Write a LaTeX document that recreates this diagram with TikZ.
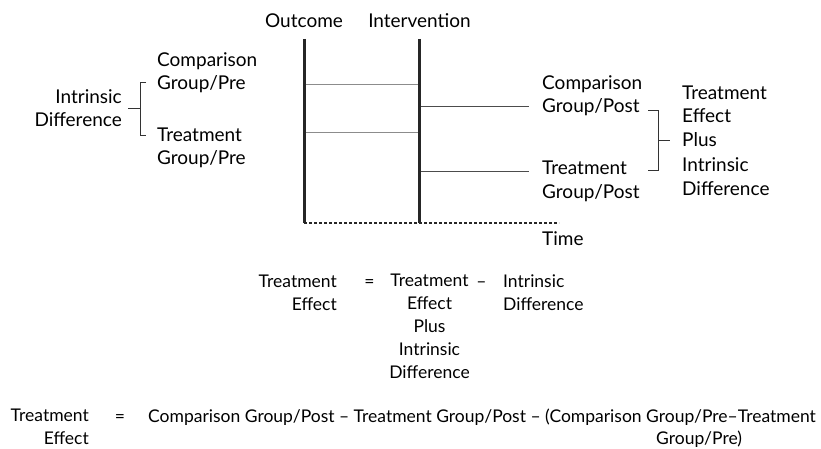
\documentclass[tikz,border=0pt]{standalone}
\usepackage{fontspec}
\setmainfont{Lato}
\usepackage{tikz}

\begin{document}
\begin{tikzpicture}[x=1pt,y=-1pt,
   lbl/.style={inner sep=0, font=\fontsize{19}{23.5}\selectfont},
   eqn/.style={inner sep=0, font=\fontsize{17.5}{22.8}\selectfont},
   axisline/.style={line width=3pt, color=black!85},
   level/.style={color=gray, line width=1pt},
   bracket/.style={color=black!80, line width=0.9pt}]
   \useasboundingbox (0,0) rectangle (821,449);
   % time axis and the two verticals
   \coordinate (otop) at (304,39);
   \coordinate (obot) at (304,223);
   \coordinate (itop) at (419,39);
   \coordinate (ibot) at (419,223);
   \coordinate (tend) at (559,223);
   \draw[dash pattern=on 3pt off 2pt, line width=1.5pt, color=black!85] (obot) -- (tend);
   \draw[axisline] (otop) -- (obot);
   \draw[axisline] (itop) -- (ibot);
   \node[lbl, anchor=base] (outcome) at (304,28) {Outcome};
   \node[lbl, anchor=base] (interv) at (419.5,28) {Intervention};
   \node[lbl, anchor=base west] (time) at (542,245) {Time};
   % levels
   \coordinate (cpreL) at (305.5,85);  \coordinate (cpreR) at (417.5,85);
   \coordinate (tpreL) at (305.5,133); \coordinate (tpreR) at (417.5,133);
   \coordinate (cpostL) at (420.5,107); \coordinate (cpostR) at (529,107);
   \coordinate (tpostL) at (420.5,172); \coordinate (tpostR) at (529,172);
   \draw[level, color=gray!90] (cpreL) -- (cpreR);
   \draw[level, color=gray!90] (tpreL) -- (tpreR);
   \draw[level, color=black!70] (cpostL) -- (cpostR);
   \draw[level, color=black!70] (tpostL) -- (tpostR);
   % left labels (base = last line)
   \node[lbl, anchor=base west, align=left] (cpre) at (157,90) {Comparison\\Group/Pre};
   \node[lbl, anchor=base west, align=left] (tpre) at (157,165) {Treatment\\Group/Pre};
   \node[lbl, anchor=base east, align=right] (intr) at (122,127) {Intrinsic\\Difference};
   \coordinate (lbA) at (146,82);  \coordinate (lbB) at (140,82);
   \coordinate (lbC) at (140,135); \coordinate (lbD) at (146,135);
   \coordinate (lbM) at (140,108); \coordinate (lbE) at (128,108);
   \draw[bracket] (lbA) -- (lbB) -- (lbC) -- (lbD);
   \draw[bracket] (lbM) -- (lbE);
   % right labels
   \node[lbl, anchor=base west, align=left] (cpost) at (542,113) {Comparison\\Group/Post};
   \node[lbl, anchor=base west, align=left] (tpost) at (542,198) {Treatment\\Group/Post};
   \node[lbl, anchor=base west, align=left, font=\fontsize{19}{24}\selectfont] (teff) at (682,195) {Treatment\\Effect\\Plus\\Intrinsic\\Difference};
   \coordinate (rbA) at (648,110); \coordinate (rbB) at (658,110);
   \coordinate (rbC) at (658,170); \coordinate (rbD) at (648,170);
   \coordinate (rbM) at (658,140); \coordinate (rbE) at (670,140);
   \draw[bracket] (rbA) -- (rbB) -- (rbC) -- (rbD);
   \draw[bracket] (rbM) -- (rbE);
   % first equation
   \node[eqn, anchor=base east, align=right] (eqlhs) at (337,310) {Treatment\\Effect};
   \node[eqn, anchor=base] (eqeq) at (369.5,287) {=};
   \node[eqn, anchor=base, align=center] (eqmid) at (429.5,378) {Treatment\\Effect\\Plus\\Intrinsic\\Difference};
   \node[eqn, anchor=base] (eqmin) at (481.5,287) {–};
   \node[eqn, anchor=base west, align=left] (eqrhs) at (503,310) {Intrinsic\\Difference};
   % second equation
   \node[eqn, anchor=base east, align=right] (fulhs) at (89,444) {Treatment\\Effect};
   \node[eqn, anchor=base] (fueq) at (120,422) {=};
   \node[eqn, anchor=base west] (furhs) at (148,422) {Comparison Group/Post – Treatment Group/Post – (Comparison Group/Pre–Treatment};
   \node[eqn, anchor=base west] (fuend) at (656,444) {Group/Pre)};
\end{tikzpicture}
\end{document}
